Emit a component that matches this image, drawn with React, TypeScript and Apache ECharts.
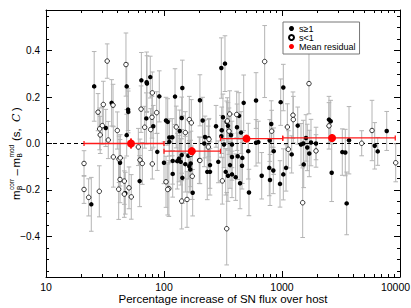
import React, { useEffect, useRef } from "react";
import * as echarts from "echarts";

// s >= 1 (filled)
const filledX = [25.6,48.3,36.0,49.6,49.8,32.1,48.3,64.3,71.3,71.7,76.5,70.8,81.1,91.2,87.7,42.4,24.2,47.0,62.2,
  143,124,201.6,328.7,306,104,107.5,141.3,212.6,135.8,276,316,340,348.5,308.6,110.9,117.6,222.5,219.6,239.3,306,322.5,369.7,100,118.5,110.9,129.6,134,141.3,138.6,151.6,160.7,168.3,163.8,199,118.5,143,167,232.6,245.4,245.4,288.5,333.5,348.5,376.9,362.5,376.9,175,
  1026,975,473.5,602.5,1359,811,432.5,415.5,449.5,602.5,630,787,851,1208,517.8,376.9,421.5,461,458.3,405,440.9,525,673,780,844,791,1082,1026,962,1449,1516,1597,1638,1761,1703,1528,
  2501,2586,2637,1942,3243,3438,3697,3532,6105,6475,7717];
const filledY = [0.246,0.246,0.175,0.146,0.136,0.067,0.036,0.272,0.264,0.258,0.286,0.108,0.074,0.203,-0.036,-0.083,-0.262,-0.214,-0.162,
  0.239,0.202,0.186,0.344,0.325,0.099,0.093,0.110,0.099,0.054,0.074,0.113,0.093,0.076,0.057,0.026,0.027,0.028,0.0,0.023,0.031,-0.004,0.036,-0.083,-0.075,0.007,-0.076,-0.065,-0.050,-0.079,-0.089,-0.053,-0.086,-0.098,-0.072,-0.131,-0.148,-0.112,-0.122,-0.122,-0.093,-0.079,-0.122,-0.139,-0.133,-0.093,-0.058,-0.212,
  0.241,0.178,0.175,0.185,0.077,0.084,0.119,0.070,0.047,0.003,0.006,0.013,-0.033,-0.047,-0.033,-0.004,-0.055,-0.062,-0.096,-0.145,-0.171,-0.211,-0.139,-0.105,-0.116,-0.157,-0.105,-0.133,-0.174,-0.004,0.0,0.024,-0.017,0.004,-0.043,-0.090,
  0.103,0.096,-0.126,0.0,-0.037,-0.039,0.014,-0.258,-0.010,-0.034,0.054];
const filledErr = [0.15,0.10,0.10,0.09,0.09,0.08,0.09,0.12,0.13,0.12,0.09,0.11,0.09,0.11,0.08,0.10,0.116,0.09,0.11,
  0.12,0.12,0.11,0.12,0.13,0.10,0.10,0.09,0.10,0.09,0.09,0.10,0.09,0.10,0.10,0.08,0.08,0.09,0.10,0.08,0.09,0.10,0.09,0.09,0.10,0.09,0.12,0.10,0.11,0.10,0.12,0.10,0.10,0.11,0.10,0.10,0.11,0.10,0.12,0.10,0.10,0.09,0.10,0.11,0.10,0.10,0.10,0.10,
  0.10,0.10,0.12,0.12,0.08,0.10,0.10,0.10,0.09,0.10,0.09,0.09,0.10,0.08,0.12,0.10,0.10,0.11,0.10,0.10,0.11,0.10,0.10,0.12,0.10,0.11,0.10,0.11,0.10,0.09,0.10,0.10,0.10,0.10,0.10,0.10,
  0.10,0.09,0.124,0.07,0.10,0.10,0.145,0.135,0.10,0.06,0.084];

// s < 1 (open)
const openX = [33.0,47.6,37.0,30.6,27.6,30.0,28.5,28.8,33.7,40.2,79.6,63.9,79.1,86.7,68.6,77.1,60.6,21.0,37.2,41.6,42.6,62.6,65.5,79.6,21.0,23.0,28.3,42.4,46.1,41.3,46.1,50.5,52.8,
  127,163.8,170.4,151.6,360.5,344,355.5,240.7,237.4,169.3,201.6,173.7,312,104,110,107.5,141.3,156.7,340,
  713,1693,1239,1247,818,1110,413,1131,1497,
  2501,1942,4735,5791,9200];
const openY = [0.355,0.340,0.165,0.168,0.135,0.077,0.063,0.037,0.015,0.056,0.218,0.148,0.113,0.133,0.070,0.060,-0.015,-0.086,-0.058,-0.068,-0.062,-0.071,-0.086,-0.088,-0.198,-0.232,-0.206,-0.155,-0.162,-0.197,-0.218,-0.191,-0.230,
  0.071,0.103,0.089,0.047,0.127,0.097,0.053,0.018,-0.015,-0.047,-0.073,-0.141,-0.161,-0.165,-0.194,-0.198,-0.248,-0.241,-0.367,
  0.353,0.258,0.122,0.103,0.053,0.071,0.125,-0.025,-0.255,
  0.076,-0.032,0.001,0.056,-0.083];
const openErr = [0.074,0.136,0.09,0.10,0.08,0.08,0.09,0.08,0.08,0.08,0.09,0.10,0.09,0.09,0.09,0.09,0.08,0.055,0.13,0.10,0.10,0.09,0.09,0.065,0.06,0.08,0.11,0.10,0.10,0.13,0.10,0.09,0.096,
  0.09,0.10,0.10,0.09,0.10,0.10,0.10,0.09,0.09,0.10,0.10,0.10,0.10,0.11,0.12,0.11,0.12,0.12,0.156,
  0.155,0.13,0.10,0.10,0.09,0.10,0.10,0.08,0.15,
  0.10,0.07,0.054,0.13,0.082];

// Mean residual per bin
const meanX = [52.5, 172, 500, 2655];
const meanY = [0.0, -0.033, 0.021, 0.024];
const meanErr = [0.022, 0.014, 0.014, 0.016];
const binLo = [21, 100, 301, 1014];
const binHi = [100, 301, 1014, 9120];

const xMajor = [10, 100, 1000, 10000];
const xMinor = [20,30,40,50,60,70,80,90,200,300,400,500,600,700,800,900,2000,3000,4000,5000,6000,7000,8000,9000];
const yMajor = [-0.4, -0.2, 0.0, 0.2, 0.4];
const yMinor = [-0.55,-0.5,-0.45,-0.35,-0.3,-0.25,-0.15,-0.1,-0.05,0.05,0.1,0.15,0.25,0.3,0.35,0.45,0.5,0.55];

const FONT = "Liberation Sans";

export default function App() {
  const ref = useRef<HTMLDivElement>(null);
  useEffect(() => {
    if (!ref.current) return;
    const chart = echarts.init(ref.current, undefined, { renderer: "svg" });
    const filled = filledX.map((x, i) => [x, filledY[i], filledErr[i]]);
    const open = openX.map((x, i) => [x, openY[i], openErr[i]]);
    const errData = filled.concat(open);
    const meanData = meanX.map((x, i) => [x, meanY[i], binLo[i], binHi[i], meanErr[i]]);

    const axLine = { show: true, onZero: false, lineStyle: { color: "#000", width: 1 } };
    const noLine = { show: false, onZero: false };
    const lastX = xMajor[xMajor.length - 1];
    const mkX = (pos: string, major: boolean, labels: boolean) => ({
      type: "log", logBase: 10, min: 10, max: 10000, position: pos,
      axisLine: major ? axLine : noLine,
      axisTick: { show: true, inside: true, length: major ? 6 : 3, customValues: major ? xMajor : xMinor, lineStyle: { color: "#000", width: 1 } },
      axisLabel: labels ? {
        show: true, customValues: xMajor, color: "#000", fontFamily: FONT, fontSize: 10.5, margin: 4,
        formatter: (v: number) => (Math.round(v) === lastX ? "{r|" + String(lastX) + "}" : String(Math.round(v))),
        rich: { r: { fontFamily: FONT, fontSize: 10.5, color: "#000", padding: [0, 9, 0, 0] } },
      } : { show: false },
      splitLine: { show: false }, minorTick: { show: false },
    });
    const mkY = (pos: string, major: boolean, labels: boolean) => ({
      type: "value", min: -0.575, max: 0.575, position: pos,
      axisLine: major ? axLine : noLine,
      axisTick: { show: true, inside: true, length: major ? 6 : 3, customValues: major ? yMajor : yMinor, lineStyle: { color: "#000", width: 1 } },
      axisLabel: labels ? { show: true, customValues: yMajor, color: "#000", fontFamily: FONT, fontSize: 10, margin: 6, formatter: (v: number) => (v < -1e-9 ? "\u2212" : "") + Math.abs(v).toFixed(1) } : { show: false },
      splitLine: { show: false },
    });

    const gray = "#b4b4b4";
    const option: any = {
      animation: false,
      backgroundColor: "#fff",
      grid: { left: 46, right: 11, top: 10, bottom: 31, containLabel: false, outerBoundsMode: "none" },
      xAxis: [mkX("bottom", true, true), mkX("bottom", false, false), mkX("top", true, false), mkX("top", false, false)],
      yAxis: [mkY("left", true, true), mkY("left", false, false), mkY("right", true, false), mkY("right", false, false)],
      legend: {
        orient: "vertical", left: 283, top: 22,
        padding: [2, 4, 3, 5],
        borderColor: "#777", borderWidth: 1, backgroundColor: "#fff",
        itemWidth: 5, itemHeight: 5, itemGap: 0,
        textStyle: { fontFamily: FONT, fontSize: 9, color: "#000", lineHeight: 9 },
        data: ["s\u22651", "s<1", "Mean residual"],
      },
      series: [
        {
          type: "custom", name: "err", xAxisIndex: 0, yAxisIndex: 0, clip: true, silent: true, z: 1,
          encode: { x: 0, y: 1 },
          data: errData,
          renderItem: (params: any, api: any) => {
            const x = api.value(0), y = api.value(1), e = api.value(2);
            const p1 = api.coord([x, y + e]);
            const p2 = api.coord([x, y - e]);
            const w = 2.3;
            const st = { stroke: gray, lineWidth: 1 };
            return {
              type: "group",
              children: [
                { type: "line", shape: { x1: p1[0], y1: p1[1], x2: p2[0], y2: p2[1] }, style: st },
                { type: "line", shape: { x1: p1[0] - w, y1: p1[1], x2: p1[0] + w, y2: p1[1] }, style: st },
                { type: "line", shape: { x1: p2[0] - w, y1: p2[1], x2: p2[0] + w, y2: p2[1] }, style: st },
              ],
            };
          },
        },
        {
          type: "line", name: "zero", xAxisIndex: 0, yAxisIndex: 0, silent: true, z: 2,
          data: [[10, 0], [10000, 0]], symbol: "none",
          lineStyle: { color: "#000", width: 1, type: [4, 3] },
        },
        {
          type: "scatter", name: "s\u22651", xAxisIndex: 0, yAxisIndex: 0, z: 3,
          data: filled.map((d) => [d[0], d[1]]), symbol: "circle", symbolSize: 4.5,
          itemStyle: { color: "#000", opacity: 1 },
        },
        {
          type: "scatter", name: "s<1", xAxisIndex: 0, yAxisIndex: 0, z: 3,
          data: open.map((d) => [d[0], d[1]]), symbol: "circle", symbolSize: 4.5,
          itemStyle: { color: "#fff", borderColor: "#000", borderWidth: 0.8, opacity: 1 },
        },
        {
          type: "custom", name: "meanbars", xAxisIndex: 0, yAxisIndex: 0, clip: true, silent: true, z: 4,
          encode: { x: 0, y: 1 },
          data: meanData,
          renderItem: (params: any, api: any) => {
            const xc = api.value(0), y = api.value(1), lo = api.value(2), hi = api.value(3), ye = api.value(4);
            const a = api.coord([lo, y]);
            const b = api.coord([hi, y]);
            const t = api.coord([xc, y + ye]);
            const u = api.coord([xc, y - ye]);
            const st = { stroke: "#ff1a1a", lineWidth: 1.3 };
            const h = 2.5;
            return {
              type: "group",
              children: [
                { type: "line", shape: { x1: a[0], y1: a[1], x2: b[0], y2: b[1] }, style: st },
                { type: "line", shape: { x1: a[0], y1: a[1] - h, x2: a[0], y2: a[1] + h }, style: st },
                { type: "line", shape: { x1: b[0], y1: b[1] - h, x2: b[0], y2: b[1] + h }, style: st },
                { type: "line", shape: { x1: t[0], y1: t[1], x2: u[0], y2: u[1] }, style: { stroke: "#ff1a1a", lineWidth: 2 } },
              ],
            };
          },
        },
        {
          type: "scatter", name: "Mean residual", xAxisIndex: 0, yAxisIndex: 0, z: 5,
          data: meanData.map((d) => [d[0], d[1]]), symbol: "circle", symbolSize: 8,
          itemStyle: { color: "#ff0000", opacity: 1 },
        },
      ],
      graphic: [
        {
          type: "text", x: 223, y: 299,
          style: { text: "Percentage increase of SN flux over host", fontFamily: FONT, fontSize: 11.5, fill: "#000", align: "center", verticalAlign: "middle" },
        },
        {
          type: "group", x: 16, y: 200, rotation: Math.PI / 2,
          children: [
            { type: "text", x: 0, y: 0, style: { text: "m", fontFamily: FONT, fontSize: 11.5, fill: "#000", verticalAlign: "middle" } },
            { type: "text", x: 10, y: -4.5, style: { text: "corr", fontFamily: FONT, fontSize: 6.5, fill: "#000", verticalAlign: "middle" } },
            { type: "text", x: 10, y: 3.5, style: { text: "B", fontFamily: FONT, fontSize: 6.5, fill: "#000", verticalAlign: "middle" } },
            { type: "text", x: 24.5, y: 0, style: { text: "\u2013", fontFamily: FONT, fontSize: 11.5, fill: "#000", verticalAlign: "middle" } },
            { type: "text", x: 32.5, y: 0, style: { text: "m", fontFamily: FONT, fontSize: 11.5, fill: "#000", verticalAlign: "middle" } },
            { type: "text", x: 42.5, y: -4.5, style: { text: "mod", fontFamily: FONT, fontSize: 6.5, fill: "#000", verticalAlign: "middle" } },
            { type: "text", x: 42.5, y: 3.5, style: { text: "B", fontFamily: FONT, fontSize: 6.5, fill: "#000", verticalAlign: "middle" } },
            { type: "text", x: 59, y: 0, style: { text: "(s, ", fontFamily: FONT, fontSize: 11.5, fill: "#000", verticalAlign: "middle" } },
            { type: "text", x: 78, y: 0, style: { text: "C", fontFamily: "DejaVu Serif", fontStyle: "italic", fontSize: 11, fill: "#000", verticalAlign: "middle" } },
            { type: "text", x: 89, y: 0, style: { text: ")", fontFamily: FONT, fontSize: 11.5, fill: "#000", verticalAlign: "middle" } },
          ],
        },
      ],
    };
    chart.setOption(option);
    return () => chart.dispose();
  }, []);
  return <div ref={ref} style={{ position: "fixed", left: 0, top: 0, width: 411, height: 308, background: "#fff" }} />;
}
